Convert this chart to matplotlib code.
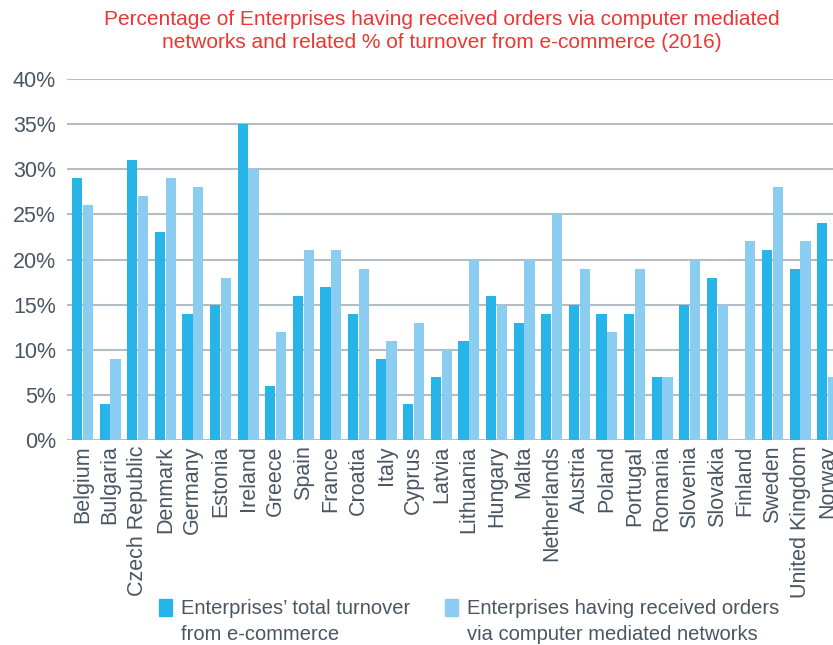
import numpy as np
import matplotlib
matplotlib.use("Agg")
from matplotlib import pyplot as plt
from matplotlib.patches import Patch

countries = ["Belgium", "Bulgaria", "Czech Republic", "Denmark", "Germany", "Estonia",
             "Ireland", "Greece", "Spain", "France", "Croatia", "Italy", "Cyprus", "Latvia",
             "Lithuania", "Hungary", "Malta", "Netherlands", "Austria", "Poland", "Portugal",
             "Romania", "Slovenia", "Slovakia", "Finland", "Sweden", "United Kingdom", "Norway"]
turnover = [29, 4, 31, 23, 14, 15, 35, 6, 16, 17, 14, 9, 4, 7,
            11, 16, 13, 14, 15, 14, 14, 7, 15, 18, 0, 21, 19, 24]
orders = [26, 9, 27, 29, 28, 18, 30, 12, 21, 21, 19, 11, 13, 10,
          20, 15, 20, 25, 19, 12, 19, 7, 20, 15, 22, 28, 22, 7]
yticks = [0, 5, 10, 15, 20, 25, 30, 35, 40]
legend_lines = [["Enterprises\u2019 total turnover", "from e-commerce"],
                ["Enterprises having received orders", "via computer mediated networks"]]

dark = "#27b5e9"
light = "#8acdf0"
text_grey = "#4a5661"

plt.rcParams['font.family'] = ['Liberation Sans', 'DejaVu Sans']

fig = plt.figure(figsize=(8.33, 6.45), dpi=100)
ax = fig.add_axes([67 / 833, 1 - 440 / 645, 1 - 67 / 833, (440 - 79) / 645])

x = np.arange(len(countries))
w = 0.37
ax.bar(x - w / 2 - 0.01, turnover, width=w, color=dark, zorder=3)
ax.bar(x + w / 2 + 0.01, orders, width=w, color=light, zorder=3)

ax.set_ylim(0, 40)
ax.set_xlim(-0.56, 27.19)
ax.set_yticks(yticks)
ax.set_yticklabels([f"{v}%" for v in yticks], fontsize=15.5, color=text_grey)
ax.set_xticks(x)
ax.set_xticklabels(countries, rotation=90, fontsize=15.5, color=text_grey)
ax.tick_params(length=0, pad=4)
ax.tick_params(axis='y', pad=8)
ax.grid(axis='y', color="#b4bcc4", linewidth=1.5, zorder=0)
for s in ax.spines.values():
    s.set_visible(False)

fig.text(0.53, 0.985, "Percentage of Enterprises having received orders via computer mediated\n"
         "networks and related % of turnover from e-commerce (2016)",
         ha='center', va='top', fontsize=15, color="#ec3631", linespacing=1.3)

# second line of each label gets an invisible handle so the square sits by the first line
handles = [Patch(color=dark), Patch(color='none'), Patch(color=light), Patch(color='none')]
labels = legend_lines[0] + legend_lines[1]
fig.legend(handles, labels, loc='upper left', bbox_to_anchor=(155 / 833, 1 - 595 / 645),
           ncol=2, frameon=False, fontsize=14.5, handlelength=0.65, handleheight=0.9,
           handletextpad=0.45, columnspacing=1.7, labelcolor=text_grey,
           labelspacing=0.3, borderaxespad=0, borderpad=0.2)

fig.savefig("out.png", dpi=100)
